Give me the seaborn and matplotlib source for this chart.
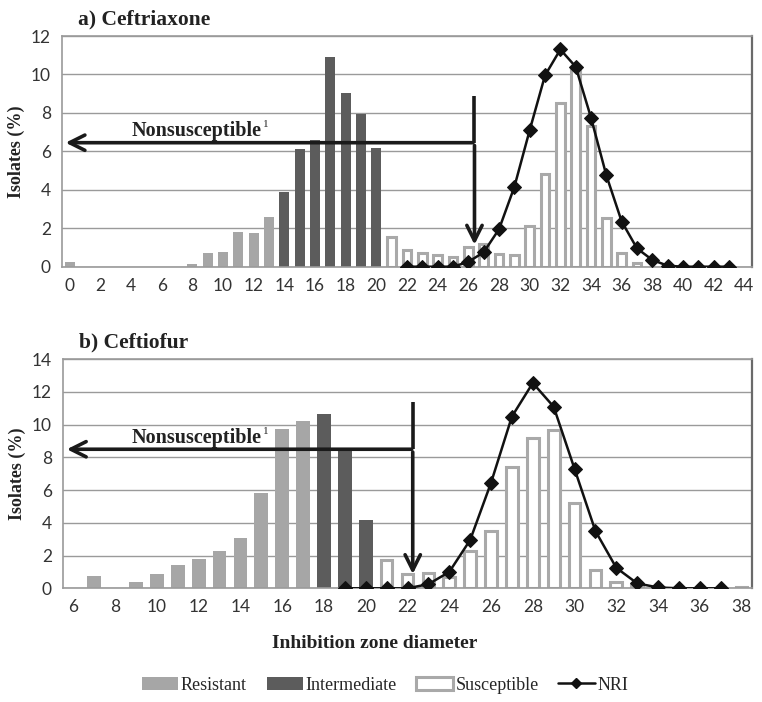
import matplotlib
matplotlib.use("Agg")
import matplotlib.pyplot as plt
from matplotlib.patches import Patch
from matplotlib.lines import Line2D
import seaborn as sns

# ---- a) Ceftriaxone ----
ctx_res_d = [0, 8, 9, 10, 11, 12, 13]
ctx_res_pct = [0.25, 0.15, 0.7, 0.75, 1.8, 1.75, 2.6]
ctx_int_d = [14, 15, 16, 17, 18, 19, 20]
ctx_int_pct = [3.9, 6.1, 6.6, 10.9, 9.05, 7.95, 6.15]
ctx_sus_d = [21, 22, 23, 24, 25, 26, 27, 28, 29, 30, 31, 32, 33, 34, 35, 36, 37]
ctx_sus_pct = [1.55, 0.85, 0.7, 0.6, 0.5, 1.0, 1.2, 0.65, 0.6, 2.1, 4.8,
               8.5, 10.3, 7.3, 2.55, 0.7, 0.2]
ctx_nri_d = list(range(22, 44))
ctx_nri_pct = [0, 0, 0, 0, 0.25, 0.75, 1.95, 4.15, 7.1, 9.95, 11.3, 10.4,
               7.75, 4.75, 2.35, 0.95, 0.35, 0.05, 0, 0, 0, 0]

# ---- b) Ceftiofur ----
ctf_res_d = [7, 9, 10, 11, 12, 13, 14, 15, 16, 17]
ctf_res_pct = [0.75, 0.4, 0.9, 1.4, 1.8, 2.25, 3.1, 5.8, 9.75, 10.25]
ctf_int_d = [18, 19, 20]
ctf_int_pct = [10.65, 8.5, 4.2]
ctf_sus_d = [21, 22, 23, 24, 25, 26, 27, 28, 29, 30, 31, 32, 33, 38]
ctf_sus_pct = [1.75, 0.85, 0.95, 0.7, 2.25, 3.5, 7.4, 9.2, 9.7, 5.2, 1.1,
               0.4, 0.2, 0.1]
ctf_nri_d = list(range(19, 38))
ctf_nri_pct = [0, 0, 0, 0, 0.25, 1.0, 2.95, 6.45, 10.5, 12.55, 11.1, 7.3,
               3.5, 1.25, 0.3, 0.05, 0, 0, 0]

RES_C = "#a6a6a6"
INT_C = "#5c5c5c"
SUS_EDGE = "#a9a9a9"
GRID_C = "#9a9a9a"

sns.set_style("white")
plt.rcParams["font.family"] = ["Lato", "DejaVu Sans"]
SERIF = "Liberation Serif"

fig = plt.figure(figsize=(7.62, 7.02), dpi=100)
ax1 = fig.add_axes([0.0814, 0.6201, 0.9055, 0.3286])
ax2 = fig.add_axes([0.0827, 0.162, 0.9042, 0.3262])

ARROW = dict(arrowstyle="->,head_length=1.1,head_width=0.55", color="#1a1a1a", lw=2.6)


def draw_panel(ax, res, inter, sus, nri, xlim, ymax, arrow_x, arrow_y, arrow_top,
               arrow_tip, text_x, text_y, title):
    w = 0.66
    sns.barplot(x=res[0], y=res[1], native_scale=True, width=w, color=RES_C,
                saturation=1, errorbar=None, linewidth=0, ax=ax)
    sns.barplot(x=inter[0], y=inter[1], native_scale=True, width=w, color=INT_C,
                saturation=1, errorbar=None, linewidth=0, ax=ax)
    sns.barplot(x=sus[0], y=sus[1], native_scale=True, width=w * 0.85, color="white",
                edgecolor=SUS_EDGE, linewidth=2.2, saturation=1, errorbar=None, ax=ax)
    sns.lineplot(x=nri[0], y=nri[1], color="#111111", linewidth=1.8, marker="D",
                 markersize=7, markeredgecolor="#111111", ax=ax, zorder=5)

    # nonsusceptible arrows
    ax.plot([arrow_x, arrow_x], [arrow_top, arrow_y], color="#1a1a1a", lw=2.6,
            zorder=6, solid_capstyle="butt")
    ax.annotate("", xy=(xlim[0] + 0.05, arrow_y), xytext=(arrow_x + 0.08, arrow_y),
                arrowprops=ARROW, zorder=6)
    ax.annotate("", xy=(arrow_x, arrow_tip), xytext=(arrow_x, arrow_y),
                arrowprops=ARROW, zorder=6)
    txt = ax.text(text_x, text_y, "Nonsusceptible", family=SERIF,
                  fontweight="bold", fontsize=14.5, ha="center", va="bottom",
                  color="#222222")
    ax.annotate("1", xy=(1.0, 0.6), xycoords=txt, xytext=(1, 0),
                textcoords="offset points", family=SERIF, fontsize=8,
                ha="left", va="bottom", color="#222222")

    ax.set_xlim(*xlim)
    ax.set_ylim(0, ymax)
    ax.set_yticks(range(0, ymax + 1, 2))
    lo = int(round(xlim[0] + 0.5))
    hi = int(round(xlim[1] - 0.5))
    ax.set_xticks(range(lo, hi + 1, 2))
    ax.set_xticks([v + 0.5 for v in range(lo - 1, hi + 1)], minor=True)
    ax.tick_params(axis="x", which="major", length=0, pad=8, labelsize=12.5,
                   labelcolor="#333333")
    ax.tick_params(axis="x", which="minor", length=4, width=1, color=GRID_C,
                   direction="out")
    ax.tick_params(axis="y", length=4, width=1, color=GRID_C, labelsize=12.5,
                   labelcolor="#333333", pad=4)
    ax.yaxis.grid(True, color=GRID_C, lw=1)
    ax.xaxis.grid(False)
    ax.set_axisbelow(True)
    for s in ["top", "left", "bottom"]:
        ax.spines[s].set_color(GRID_C)
        ax.spines[s].set_linewidth(1.2)
    ax.spines["right"].set_color("#6a6a6a")
    ax.spines["right"].set_linewidth(1.6)
    ax.set_xlabel("")
    ax.set_ylabel("Isolates (%)", family=SERIF, fontweight="bold", fontsize=13,
                  color="#222222", labelpad=4)
    ax.text(0.023, 1.03, title, transform=ax.transAxes, family=SERIF,
            fontweight="bold", fontsize=15.5, ha="left", va="bottom", color="#222222")


draw_panel(ax1, (ctx_res_d, ctx_res_pct), (ctx_int_d, ctx_int_pct),
           (ctx_sus_d, ctx_sus_pct), (ctx_nri_d, ctx_nri_pct),
           (-0.5, 44.5), 12, 26.4, 6.45, 8.9, 1.0, 8.3, 6.55, "a) Ceftriaxone")
draw_panel(ax2, (ctf_res_d, ctf_res_pct), (ctf_int_d, ctf_int_pct),
           (ctf_sus_d, ctf_sus_pct), (ctf_nri_d, ctf_nri_pct),
           (5.5, 38.5), 14, 22.25, 8.5, 11.4, 0.7, 11.9, 8.6, "b) Ceftiofur")

fig.text(375 / 762, 1 - 643 / 702, "Inhibition zone diameter", family=SERIF,
         fontweight="bold", fontsize=14, color="#222222", ha="center", va="center")

handles = [
    Patch(facecolor=RES_C, edgecolor="none"),
    Patch(facecolor=INT_C, edgecolor="none"),
    Patch(facecolor="white", edgecolor=SUS_EDGE, linewidth=2.2),
    Line2D([0], [0], color="#111111", lw=1.8, marker="D", markersize=5),
]
labels = ["Resistant", "Intermediate", "Susceptible", "NRI"]
fig.legend(handles, labels, loc="center", bbox_to_anchor=(385 / 762, 1 - 685 / 702),
           ncol=4, frameon=False, prop={"family": SERIF, "size": 13},
           handlelength=2.0, handleheight=0.75, handletextpad=0.15, columnspacing=1.1,
           borderpad=0, borderaxespad=0)

fig.savefig("out.png", dpi=100)
